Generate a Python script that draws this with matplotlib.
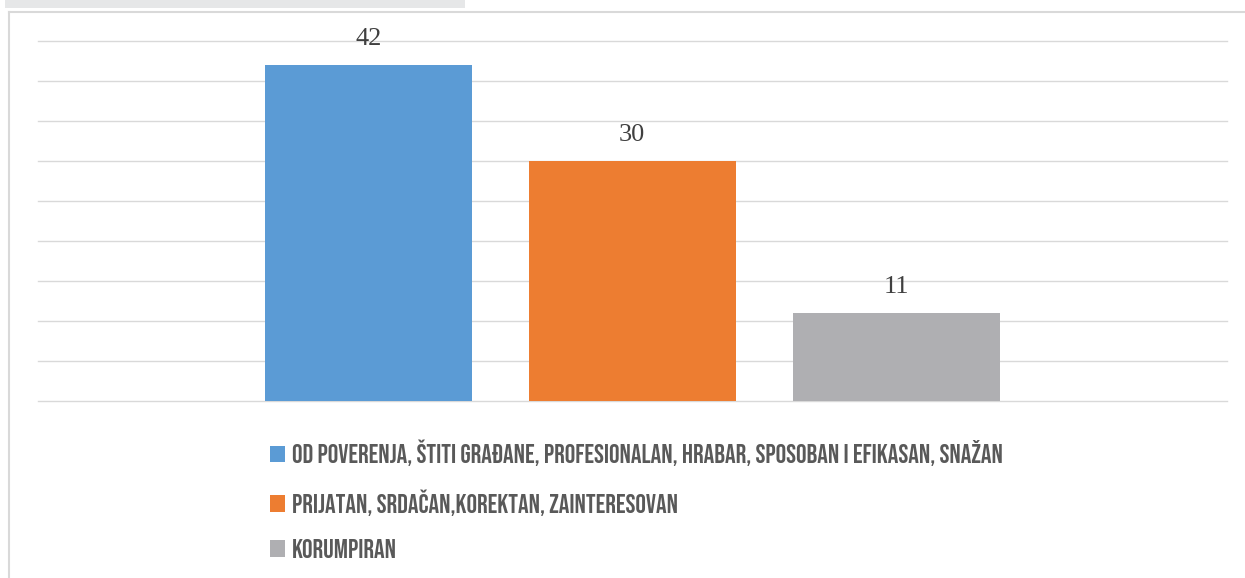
import matplotlib
matplotlib.use("Agg")
import matplotlib.pyplot as plt
from matplotlib.patches import Rectangle
from matplotlib.lines import Line2D

categories = [
    "OD POVERENJA, ŠTITI GRAĐANE, PROFESIONALAN, HRABAR, SPOSOBAN I EFIKASAN, SNAŽAN",
    "PRIJATAN, SRDAČAN,KOREKTAN, ZAINTERESOVAN",
    "KORUMPIRAN",
]
values = [42, 30, 11]
colors = ["#5b9bd5", "#ed7d31", "#afafb2"]

W, H = 1245, 578
fig = plt.figure(figsize=(W / 100, H / 100), dpi=100)

# decorative frame pieces
fig.add_artist(Rectangle((5 / W, 1 - 8 / H), 460 / W, 8 / H, transform=fig.transFigure,
                         facecolor="#e6e7e8", edgecolor="none"))
fig.add_artist(Line2D([9 / W, 9 / W], [0, 1 - 12 / H], transform=fig.transFigure,
                      color="#d9d9d9", lw=1.5))
fig.add_artist(Line2D([9 / W, 1], [1 - 12 / H, 1 - 12 / H], transform=fig.transFigure,
                      color="#d9d9d9", lw=1.5))

ax = fig.add_axes([38 / W, (H - 401) / H, (1227 - 38) / W, (401 - 41) / H])
x = list(range(len(values)))
bars = ax.bar(x, values, width=0.785, color=colors, zorder=2)
ax.set_xlim(-1.252, 3.254)
ax.set_ylim(0, 45)
ax.set_yticks(range(0, 46, 5))
ax.grid(axis="y", color="#d9d9d9", lw=1.0, zorder=0)
for gl in ax.get_ygridlines():
    gl.set_clip_on(False)
ax.tick_params(left=False, bottom=False, labelleft=False, labelbottom=False)
for s in ax.spines.values():
    s.set_visible(False)

for xi, v in zip(x, values):
    ax.annotate(str(v), (xi, v), xytext=(0, 11), textcoords="offset points",
                ha="center", va="bottom", fontsize=19, family="Liberation Serif",
                color="#404040")

leg = fig.legend(bars, categories, loc="upper left",
                 bbox_to_anchor=(270 / W, 1 - 440 / H), frameon=False,
                 prop={"family": ["Bebas Neue", "Oswald", "DejaVu Sans"], "size": 19},
                 labelcolor="#595959", handlelength=0.58, handleheight=0.58,
                 handletextpad=0.25, labelspacing=0.87, borderpad=0, borderaxespad=0)

fig.savefig("out.png", dpi=100)
